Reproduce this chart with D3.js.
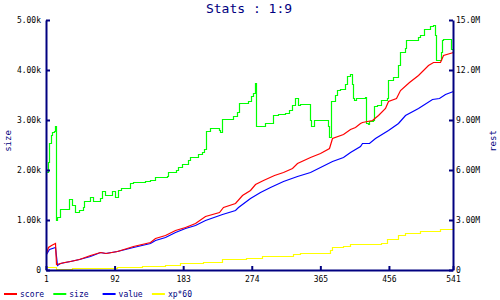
<!DOCTYPE html>
<html>
<head>
<meta charset="utf-8">
<script src="https://cdn.jsdelivr.net/npm/d3@7"></script>
<style>
  body { margin: 0; background: #fff; }
  svg { display: block; }
  text { font-family: "DejaVu Sans Mono", monospace; }
</style>
</head>
<body>
<div id="chart"></div>
<script>
// data: [index, value]
const sizeK = [[1,1.97],[3,2.17],[5,2.54],[7,2.70],[9,2.77],[11,2.79],[13,2.88],[14,1.00],[15,1.07],[20,1.22],[32,1.41],[36,1.30],[39,1.17],[45,1.21],[50,1.27],[52,1.37],[59,1.46],[64,1.39],[72,1.44],[75,1.57],[79,1.50],[88,1.57],[93,1.46],[96,1.60],[101,1.65],[112,1.75],[117,1.77],[125,1.76],[132,1.78],[139,1.81],[146,1.87],[161,1.88],[163,1.97],[174,2.01],[176,2.07],[181,2.12],[190,2.21],[192,2.27],[203,2.32],[208,2.37],[211,2.43],[213,2.79],[219,2.83],[230,2.81],[232,2.77],[234,3.03],[249,3.08],[254,3.17],[257,3.35],[269,3.37],[273,3.47],[276,3.55],[278,3.74],[280,2.87],[292,2.93],[302,3.10],[309,3.13],[318,3.15],[324,3.20],[328,3.30],[331,3.43],[336,3.30],[338,3.33],[351,3.00],[353,2.88],[356,3.00],[375,2.87],[377,2.67],[379,3.37],[384,3.50],[387,3.60],[391,3.63],[398,3.73],[400,3.88],[404,3.92],[407,3.73],[408,3.43],[410,3.40],[412,3.43],[424,3.45],[426,2.93],[428,2.91],[429,2.98],[435,3.00],[436,3.27],[440,3.29],[446,3.40],[453,3.43],[455,3.80],[462,3.87],[468,4.10],[471,4.37],[477,4.45],[479,4.60],[495,4.65],[497,4.70],[502,4.82],[510,4.89],[515,4.90],[517,4.70],[518,4.20],[524,4.20],[525,4.37],[527,4.60],[528,4.63],[537,4.63],[538,4.43],[541,4.35]];

const scoreM = [[1,1.0],[4,1.36],[8,1.5],[13,1.6],[14,0.36],[20,0.44],[25,0.5],[33,0.56],[45,0.64],[59,0.9],[73,1.1],[81,1.04],[95,1.16],[117,1.44],[139,1.7],[146,1.9],[159,2.1],[172,2.4],[185,2.6],[199,2.8],[212,3.24],[230,3.5],[236,3.8],[252,4.04],[261,4.5],[272,4.8],[278,5.16],[289,5.4],[303,5.7],[316,5.9],[327,6.1],[334,6.44],[351,6.76],[365,7.04],[376,7.3],[380,7.9],[395,8.16],[404,8.44],[411,8.6],[418,8.8],[420,8.86],[433,9.0],[442,9.3],[451,9.7],[455,10.14],[466,10.3],[471,10.8],[482,11.3],[495,11.7],[508,12.3],[515,12.46],[524,12.5],[528,12.9],[541,13.1]];

const valueM = [[1,0.96],[5,1.24],[13,1.4],[15,0.3],[20,0.4],[33,0.56],[45,0.64],[59,0.84],[73,1.1],[79,1.0],[95,1.16],[117,1.4],[139,1.64],[146,1.8],[159,2.0],[172,2.3],[185,2.5],[199,2.7],[212,3.0],[234,3.36],[252,3.6],[256,3.8],[272,4.3],[285,4.7],[298,5.0],[316,5.36],[334,5.64],[351,5.9],[365,6.2],[380,6.56],[395,6.8],[404,7.1],[418,7.44],[420,7.6],[429,7.6],[437,7.9],[455,8.4],[468,8.8],[477,9.3],[495,9.7],[513,10.26],[522,10.3],[530,10.54],[541,10.74]];

const xp60M = [[1,0.2],[14,0.04],[35,0.1],[95,0.16],[128,0.24],[159,0.3],[179,0.4],[209,0.5],[234,0.64],[267,0.7],[287,0.84],[329,0.96],[338,1.0],[378,1.2],[380,1.36],[395,1.44],[404,1.54],[446,1.6],[453,1.84],[468,2.1],[477,2.24],[497,2.36],[524,2.48],[541,2.52]];

const xTicks = [1, 92, 183, 274, 365, 456, 541];
const leftTicks = [0, 1, 2, 3, 4, 5];
const leftLabels = ["0", "1.00k", "2.00k", "3.00k", "4.00k", "5.00k"];
const rightTicks = [0, 3, 6, 9, 12, 15];
const rightLabels = ["0", "3.00M", "6.00M", "9.00M", "12.0M", "15.0M"];

const legendNames = ["score", "size", "value", "xp*60"];
const colours = ["#ff0000", "#00ff00", "#0000ff", "#ffff00"];

function draw() {
  const width = 500, height = 300;
  const left = 46, right = 453, top = 20, bottom = 270;
  const navy = "#000080";

  const svg = d3.select("#chart").append("svg")
    .attr("width", width)
    .attr("height", height);

  const x = d3.scaleLinear().domain([1, 541]).range([left, right]);
  const yL = d3.scaleLinear().domain([0, 5]).range([bottom, top]);
  const yR = d3.scaleLinear().domain([0, 15]).range([bottom, top]);

  const series = [
    { data: scoreM, y: yR, colour: colours[0], curve: d3.curveLinear },
    { data: sizeK, y: yL, colour: colours[1], curve: d3.curveStepAfter },
    { data: valueM, y: yR, colour: colours[2], curve: d3.curveLinear },
    { data: xp60M, y: yR, colour: colours[3], curve: d3.curveStepAfter }
  ];

  // draw order: xp, size, value, score on top
  const plot = svg.append("g").attr("transform", "translate(0.5,0.5)");
  [3, 1, 2, 0].forEach(i => {
    const s = series[i];
    const line = d3.line()
      .x(d => Math.round(x(d[0])))
      .y(d => Math.round(s.y(d[1])))
      .curve(s.curve);
    plot.append("path")
      .datum(s.data)
      .attr("d", line)
      .attr("fill", "none")
      .attr("stroke", s.colour)
      .attr("stroke-width", 1.2);
  });

  // axes
  const ax = svg.append("g")
    .attr("transform", `translate(0,${bottom})`)
    .call(d3.axisBottom(x).tickValues(xTicks).tickSize(-4).tickSizeOuter(0).tickPadding(6));

  const al = svg.append("g")
    .attr("transform", `translate(${left},0)`)
    .call(d3.axisLeft(yL).tickValues(leftTicks).tickFormat((d, i) => leftLabels[i])
      .tickSize(-4).tickSizeOuter(0).tickPadding(5));

  const ar = svg.append("g")
    .attr("transform", `translate(${right},0)`)
    .call(d3.axisRight(yR).tickValues(rightTicks).tickFormat((d, i) => rightLabels[i])
      .tickSize(-4).tickSizeOuter(0).tickPadding(3));

  [ax, al, ar].forEach(g => {
    g.select(".domain").attr("stroke", navy).attr("stroke-width", 2);
    g.selectAll(".tick line").attr("stroke", navy).attr("stroke-width", 2);
    g.selectAll(".tick text")
      .attr("fill", "#000")
      .style("font-family", "'DejaVu Sans Mono', monospace")
      .style("font-size", "8px");
  });

  // title
  svg.append("text")
    .attr("x", 249)
    .attr("y", 13)
    .attr("text-anchor", "middle")
    .attr("fill", navy)
    .style("font-size", "13px")
    .text("Stats : 1:9");

  // axis titles
  svg.append("text")
    .attr("transform", "translate(11,141) rotate(-90)")
    .attr("text-anchor", "middle")
    .attr("fill", navy)
    .style("font-size", "9px")
    .text("size");

  svg.append("text")
    .attr("transform", "translate(496,141) rotate(-90)")
    .attr("text-anchor", "middle")
    .attr("fill", navy)
    .style("font-size", "9px")
    .text("rest");

  // legend
  const legend = svg.append("g")
    .selectAll("g")
    .data(legendNames)
    .enter()
    .append("g")
    .attr("transform", (d, i) => `translate(${4 + i * 49.3},294)`);

  legend.append("line")
    .attr("x1", 0)
    .attr("x2", 13)
    .attr("stroke", (d, i) => colours[i])
    .attr("stroke-width", 2);

  legend.append("text")
    .attr("x", 16)
    .attr("y", 3)
    .attr("fill", navy)
    .style("font-size", "8px")
    .text(d => d);
}

window.onload = function () {
  draw();
};
</script>
</body>
</html>
